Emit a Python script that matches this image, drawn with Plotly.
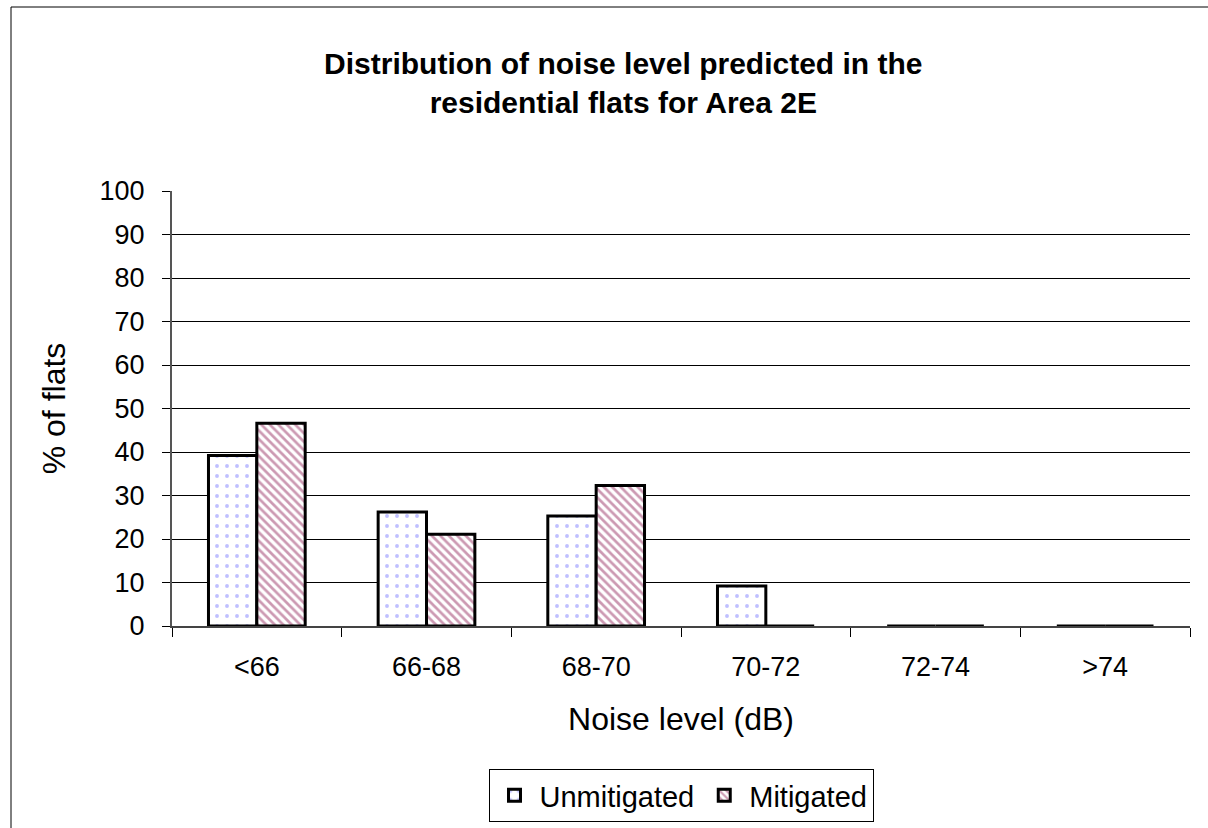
import plotly.graph_objects as go

categories = ["<66", "66-68", "68-70", "70-72", "72-74", ">74"]
unmitigated = [39.2, 26.2, 25.3, 9.2, 0, 0]
mitigated = [46.6, 21.1, 32.3, 0, 0, 0]
y_ticks = list(range(0, 101, 10))

W, H = 1208, 828
L, R, T, B = 172, 18, 191, 202
PW, PH = W - L - R, H - T - B

fig = go.Figure()
fig.add_trace(go.Bar(
    x=categories, y=unmitigated, name="Unmitigated",
    marker=dict(color="white", line=dict(color="black", width=3),
                pattern=dict(shape=".", fgcolor="#8080FF", bgcolor="white", size=10, solidity=0.12)),
))
fig.add_trace(go.Bar(
    x=categories, y=mitigated, name="Mitigated",
    marker=dict(color="white", line=dict(color="black", width=3),
                pattern=dict(shape="\\", fgcolor="#993366", bgcolor="white", size=6, solidity=0.45)),
))

fig.update_layout(
    width=W, height=H,
    paper_bgcolor="white", plot_bgcolor="white",
    margin=dict(l=L, r=R, t=T, b=B, autoexpand=False),
    barmode="group", bargap=0.43, bargroupgap=0,
    font=dict(family="Arial, Liberation Sans, sans-serif", size=27, color="black"),
    title=dict(text="<b>Distribution of noise level predicted in the<br>residential flats for Area 2E</b>",
               xref="container", x=0.516, xanchor="center",
               yref="container", y=1 - 74 / H, yanchor="top",
               font=dict(size=30)),
    xaxis=dict(showline=True, linecolor="#444444", linewidth=2, ticks="outside",
               tickcolor="black", ticklen=9, tickson="boundaries",
               ticklabelstandoff=16,
               title=dict(text="Noise level (dB)", standoff=26), showgrid=False),
    yaxis=dict(range=[0, 100], tickvals=y_ticks, showline=True, linecolor="#555555",
               linewidth=2, ticks="outside", tickcolor="black", ticklen=8,
               ticklabelstandoff=12,
               showgrid=True, gridcolor="black", gridwidth=1,
               title=dict(text="% of flats", standoff=24)),
    legend=dict(orientation="h", x=0.5, xanchor="center", y=(T + PH - 769) / PH, yanchor="top",
                bordercolor="black", borderwidth=1, font=dict(size=29),
                traceorder="normal", itemwidth=40, tracegroupgap=0),
    showlegend=True,
)
fig.add_shape(type="rect", xref="paper", yref="paper",
              x0=(11 - L) / PW, x1=1 + 40 / PW, y0=-(B + 40) / PH, y1=1 + (T - 7) / PH,
              line=dict(color="black", width=1), fillcolor="rgba(0,0,0,0)", layer="below")

fig.write_html("out.html", config={"displayModeBar": False},
               post_script="document.body.style.margin='0';")
